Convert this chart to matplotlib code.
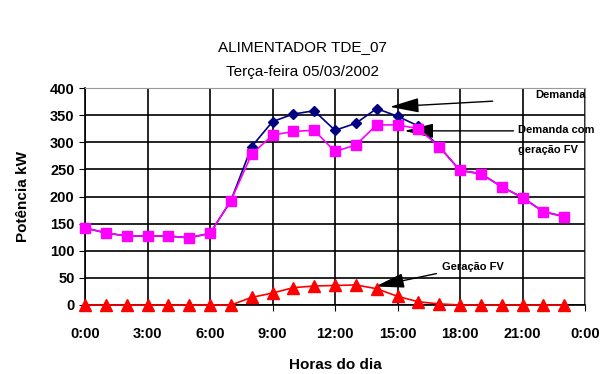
import numpy as np
import matplotlib
matplotlib.use('Agg')
import matplotlib.pyplot as plt

plt.rcParams['font.family'] = ['Liberation Sans', 'DejaVu Sans']

horas = list(range(24))
demanda = [142, 133, 127, 127, 127, 124, 132, 192, 292, 338, 352, 358,
           322, 335, 362, 348, 330, 292, 248, 242, 218, 198, 172, 163]
demanda_fv = [142, 133, 127, 127, 127, 124, 132, 192, 278, 313, 320, 322,
              283, 295, 332, 332, 325, 292, 248, 242, 218, 198, 172, 163]
geracao = [0, 0, 0, 0, 0, 0, 0, 0, 14, 22, 32, 35,
           36, 37, 30, 16, 6, 2, 0, 0, 0, 0, 0, 0]
xticks = list(range(0, 25, 3))
xlabels = ['0:00', '3:00', '6:00', '9:00', '12:00', '15:00', '18:00', '21:00', '0:00']

fig = plt.figure(figsize=(6.05, 3.74), dpi=100)
ax = fig.add_axes([85/605, 69/374, 500/605, 217/374])

ax.plot(horas, demanda, color='#000080', marker='D', markersize=5, lw=1.2, zorder=3, clip_on=False)
ax.plot(horas, demanda_fv, color='#FF00FF', marker='s', markersize=7, lw=1.2, zorder=4, clip_on=False)
ax.plot(horas, geracao, color='#FF0000', marker='^', markersize=8, lw=1.2, zorder=5, clip_on=False)

ax.set_xlim(0, 24)
ax.set_ylim(0, 400)
ax.set_xticks(xticks)
ax.set_xticklabels(xlabels, fontweight='bold', fontsize=10.5)
ax.set_yticks(range(0, 401, 50))
ax.tick_params(axis='y', labelsize=10.5, length=4)
ax.tick_params(axis='x', length=4, pad=12)
for t in ax.get_yticklabels():
    t.set_fontweight('bold')
ax.grid(True, color='black', lw=1.2)
for s in ['top', 'right']:
    ax.spines[s].set_color('#999999')
for s in ['left', 'bottom']:
    ax.spines[s].set_linewidth(1.2)

ax.set_ylabel('Potência kW', fontweight='bold', fontsize=11, labelpad=14)
ax.set_xlabel('Horas do dia', fontweight='bold', fontsize=11, labelpad=12)

fig.text(0.5, 1 - 47/374, 'ALIMENTADOR TDE_07', ha='center', va='center', fontsize=11)
fig.text(0.5, 1 - 72/374, 'Terça-feira 05/03/2002', ha='center', va='center', fontsize=11)

arrow = dict(arrowstyle='-|>,head_length=1.2,head_width=0.3', color='black', lw=1, mutation_scale=15)
ax.annotate('', xy=(14.5, 365), xytext=(19.7, 376), arrowprops=arrow, annotation_clip=False)
ax.text(22.8, 388, 'Demanda', fontsize=8, fontweight='bold', ha='center', va='center')
ax.annotate('', xy=(15.2, 321), xytext=(20.7, 321), arrowprops=arrow, annotation_clip=False)
ax.text(20.8, 322, 'Demanda com', fontsize=8, fontweight='bold', ha='left', va='center')
ax.text(20.8, 286, 'geração FV', fontsize=8, fontweight='bold', ha='left', va='center')
ax.annotate('', xy=(13.8, 33), xytext=(17.0, 59), arrowprops=arrow, annotation_clip=False)
ax.text(18.6, 70, 'Geração FV', fontsize=8, fontweight='bold', ha='center', va='center')

fig.savefig('out.png', dpi=100)
